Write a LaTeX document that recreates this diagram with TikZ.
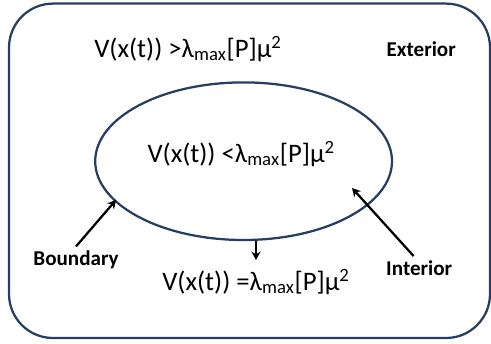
\documentclass[tikz,border=0pt]{standalone}
\usepackage{fontspec}
\setmainfont{Carlito}
\usepackage{tikz}
\usetikzlibrary{arrows.meta,shapes.geometric,positioning}

\definecolor{setblue}{RGB}{38,62,98}

\begin{document}
\begin{tikzpicture}[
    region/.style={draw=setblue, line width=1.6pt},
    formula/.style={font=\fontsize{19}{22}\selectfont, inner sep=0pt},
    tag/.style={font=\fontsize{15}{18}\selectfont\bfseries, inner sep=0pt},
    arr/.style={-{Stealth[length=6pt,width=6.5pt]}, line width=1.6pt}
]
\useasboundingbox (0,0) rectangle (12.275,-8.575);
\draw[region, rounded corners=1.1cm] (0.225,-0.09) rectangle (12.25,-8.45);
\node[region, ellipse, minimum width=7.42cm, minimum height=3.94cm, inner sep=0pt] (ell) at (6.09,-4.03) {};

\node[formula] (outside) at (4.7,-1.22) {V(x(t)) >λ\textsubscript{max}[P]μ\textsuperscript{2}};
\node[formula] (inside) at (6.03,-3.85) {V(x(t)) <λ\textsubscript{max}[P]μ\textsuperscript{2}};
\node[formula] (onset) at (6.4,-7.05) {V(x(t)) =λ\textsubscript{max}[P]μ\textsuperscript{2}};

\node[tag] (ext) at (10.53,-1.22) {Exterior};
\node[tag] (bnd) at (1.9,-6.5) {Boundary};
\node[tag] (int) at (10.48,-6.7) {Interior};

\coordinate (bndtip) at (2.9,-5.0);
\coordinate (inttip) at (8.8,-4.7);
\coordinate (rim) at (6.4,-6.025);
\coordinate (rimtip) at (6.4,-6.5);

\draw[arr] ([yshift=3pt]bnd.north) -- (bndtip);
\draw[arr] ([xshift=-4pt,yshift=3pt]int.north) -- (inttip);
\draw[arr] (rim) -- (rimtip);
\end{tikzpicture}
\end{document}
